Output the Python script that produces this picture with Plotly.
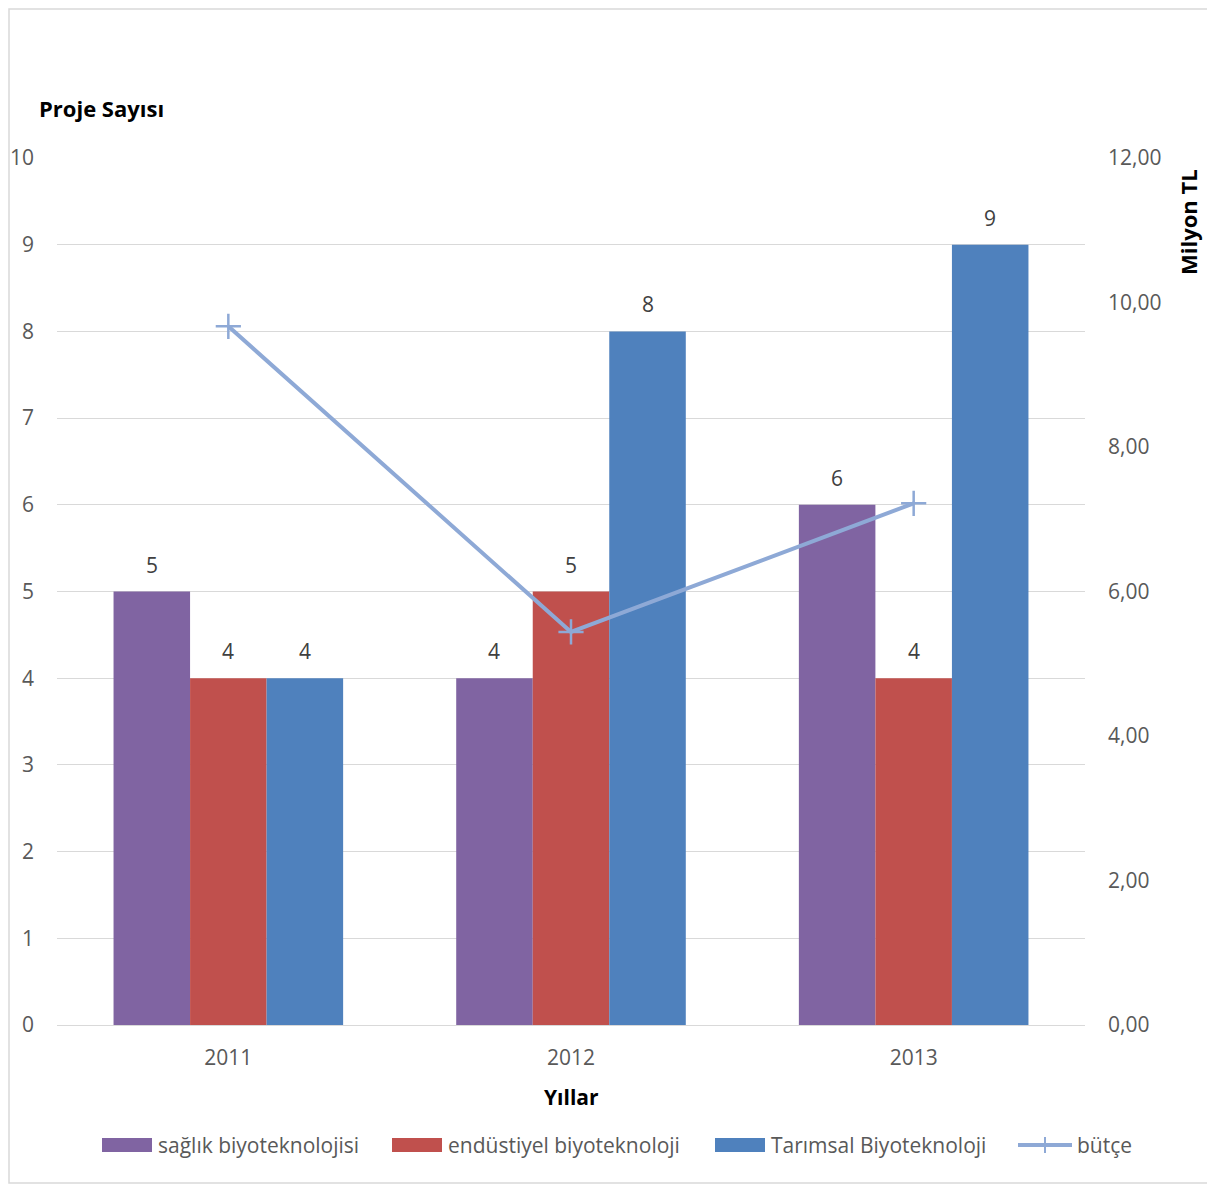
import plotly.graph_objects as go

years = ["2011", "2012", "2013"]
saglik = [5, 4, 6]
endustriyel = [4, 5, 4]
tarimsal = [4, 8, 9]
butce = [9.67, 5.44, 7.22]

series_names = ["sağlık biyoteknolojisi", "endüstiyel biyoteknoloji", "Tarımsal Biyoteknoloji", "bütçe"]
colors = ["#8064A2", "#C0504D", "#4F81BD"]
line_color = "#8EA9D6"
bar_series = [saglik, endustriyel, tarimsal]

FONT = "Open Sans"
TICK = 21

# page body has an 8px margin; positions below are page pixels
OFF = 8
W, H = 1215 - OFF, 1184 - OFF
L, R, T, B = 57 - OFF, 130, 158 - OFF, 159
pw, ph = W - L - R, H - T - B
bargap = 0.33

def px(x):
    return (x - OFF - L) / pw

def py(y):
    return (H - B - (y - OFF)) / ph

fig = go.Figure()
for name, vals, col in zip(series_names[:3], bar_series, colors):
    fig.add_trace(go.Bar(
        x=years, y=vals, name=name, marker=dict(color=col, line=dict(width=0)),
        showlegend=False,
    ))

fig.add_trace(go.Scatter(
    x=years, y=butce, name=series_names[3], yaxis="y2", mode="lines+markers",
    line=dict(color=line_color, width=4), showlegend=False,
    marker=dict(symbol="cross-thin", size=18, line=dict(color=line_color, width=2.5), color=line_color),
))

# data labels above bars (category axis: annotation x is the category index)
bar_w = pw / len(years) * (1 - bargap) / 3
annotations = []
for i, vals in enumerate(bar_series):
    for k, v in enumerate(vals):
        annotations.append(dict(
            x=k, y=v, xref="x", yref="y", text=str(v), showarrow=False,
            xshift=(i - 1) * bar_w, yshift=11, yanchor="bottom", xanchor="center",
            font=dict(size=TICK, color="#404040", family=FONT)))

annotations += [
    dict(text="<b>Proje Sayısı</b>", xref="paper", yref="paper", x=px(37), y=py(108),
         xanchor="left", yanchor="middle", showarrow=False,
         font=dict(size=22, color="black", family=FONT)),
    dict(text="<b>Milyon TL</b>", xref="paper", yref="paper", x=px(1188), y=py(222),
         xanchor="center", yanchor="middle", showarrow=False, textangle=-90,
         font=dict(size=22, color="black", family=FONT)),
    dict(text="<b>Yıllar</b>", xref="paper", yref="paper", x=px(571), y=py(1097),
         xanchor="center", yanchor="middle", showarrow=False,
         font=dict(size=21, color="black", family=FONT)),
]

# custom legend
legend_y = 1145
shapes = [dict(type="rect", xref="paper", yref="paper",
               x0=px(9), x1=px(1213), y0=py(1183), y1=py(9),
               line=dict(color="#D9D9D9", width=1.5), fillcolor="rgba(0,0,0,0)", layer="below")]
legend_items = [(102, 152, 156), (392, 442, 446), (715, 765, 769)]
for (x0, x1, tx), col, name in zip(legend_items, colors, series_names[:3]):
    shapes.append(dict(type="rect", xref="paper", yref="paper", x0=px(x0), x1=px(x1),
                       y0=py(legend_y + 7), y1=py(legend_y - 7), fillcolor=col, line=dict(width=0)))
    annotations.append(dict(text=name, xref="paper", yref="paper", x=px(tx), y=py(legend_y),
                            xanchor="left", yanchor="middle", showarrow=False,
                            font=dict(size=TICK, color="#595959", family=FONT)))
shapes.append(dict(type="line", xref="paper", yref="paper", x0=px(1018), x1=px(1072),
                   y0=py(legend_y), y1=py(legend_y), line=dict(color=line_color, width=4)))
shapes.append(dict(type="line", xref="paper", yref="paper", x0=px(1045), x1=px(1045),
                   y0=py(legend_y - 8), y1=py(legend_y + 8), line=dict(color=line_color, width=2)))
annotations.append(dict(text=series_names[3], xref="paper", yref="paper", x=px(1075), y=py(legend_y),
                        xanchor="left", yanchor="middle", showarrow=False,
                        font=dict(size=TICK, color="#595959", family=FONT)))

fig.update_layout(
    width=W, height=H,
    margin=dict(l=L, r=R, t=T, b=B, autoexpand=False),
    paper_bgcolor="white", plot_bgcolor="white",
    barmode="group", bargap=bargap, bargroupgap=0,
    separators=",.",
    font=dict(family=FONT, color="#595959", size=TICK),
    showlegend=False,
    xaxis=dict(type="category", range=[-0.5, len(years) - 0.5], showgrid=False, showline=False,
               automargin=False, ticks="", ticklabelstandoff=18,
               tickfont=dict(size=TICK, color="#595959")),
    yaxis=dict(range=[0, 10], dtick=1, showgrid=True, gridcolor="#D9D9D9", gridwidth=1,
               zeroline=True, zerolinecolor="#D9D9D9", zerolinewidth=1, showline=False,
               automargin=False, ticks="", ticklabelstandoff=22,
               tickfont=dict(size=TICK, color="#595959")),
    yaxis2=dict(range=[0, 12], dtick=2, overlaying="y", side="right", showgrid=False,
                zeroline=False, showline=False, tickformat=".2f", ticks="", automargin=False,
                ticklabelstandoff=22, tickfont=dict(size=TICK, color="#595959")),
    shapes=shapes,
    annotations=annotations,
)

fig.write_html("out.html")
